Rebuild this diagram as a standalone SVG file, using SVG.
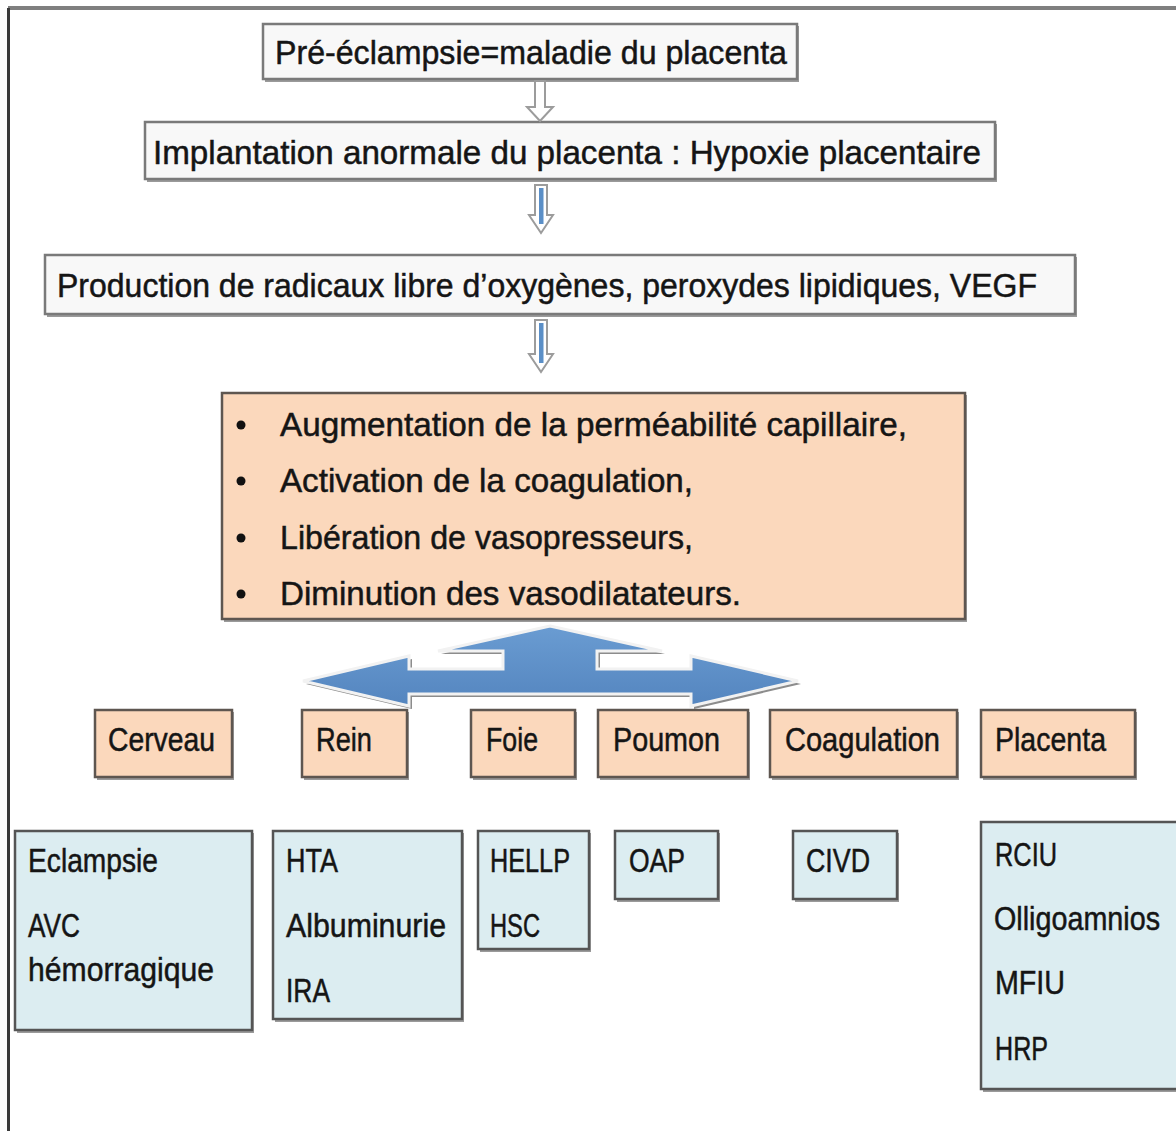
<svg xmlns="http://www.w3.org/2000/svg" width="1176" height="1131" viewBox="0 0 1176 1131">
<defs>
<style>
text{font-family:"Liberation Sans",Arial,sans-serif;font-size:34px;fill:#151515;stroke:#151515;stroke-width:0.5}
.w{fill:#F8F8F8;stroke:#7A7A7A;stroke-width:2.5}
.p{fill:#FBD8BC;stroke:#5E5650;stroke-width:2.5}
.b{fill:#DCEDF1;stroke:#555;stroke-width:2.5}
.sh{fill:#9A9A9A}
.va{fill:#FFFFFF;stroke:#9C9C9C;stroke-width:2}
</style>
<linearGradient id="bg" x1="0" y1="0" x2="0" y2="1">
<stop offset="0" stop-color="#6A9CD2"/>
<stop offset="1" stop-color="#5485BF"/>
</linearGradient>
</defs>
<rect width="1176" height="1131" fill="#FFFFFF"/>
<g id="frame">
<rect x="8" y="6" width="1168" height="4" fill="#7F7F7F"/>
<rect x="7" y="8" width="3" height="1123" fill="#3A3A3A"/>
</g>

<g id="n1">
<rect x="265" y="26" width="534" height="56" class="sh"/>
<rect x="263" y="24" width="534" height="55" class="w"/>
<text x="275" y="64" textLength="512" lengthAdjust="spacingAndGlyphs">Pré-éclampsie=maladie du placenta</text>
</g>
<g id="n2">
<rect x="147" y="124" width="850" height="58" class="sh"/>
<rect x="145" y="122" width="850" height="57" class="w"/>
<text x="153" y="164" textLength="828" lengthAdjust="spacingAndGlyphs">Implantation anormale du placenta : Hypoxie placentaire</text>
</g>
<g id="n3">
<rect x="47" y="257" width="1030" height="60" class="sh"/>
<rect x="45" y="255" width="1030" height="59" class="w"/>
<text x="57" y="297" textLength="980" lengthAdjust="spacingAndGlyphs">Production de radicaux libre d’oxygènes, peroxydes lipidiques, VEGF</text>
</g>
<g id="n4">
<rect x="224" y="395" width="743" height="227" class="sh"/>
<rect x="222" y="393" width="743" height="226" class="p"/>
<circle cx="241" cy="425" r="4.5" fill="#111"/>
<circle cx="241" cy="481" r="4.5" fill="#111"/>
<circle cx="241" cy="538" r="4.5" fill="#111"/>
<circle cx="241" cy="594" r="4.5" fill="#111"/>
<text x="280" y="436" textLength="627" lengthAdjust="spacingAndGlyphs">Augmentation de la perméabilité capillaire,</text>
<text x="280" y="492" textLength="413" lengthAdjust="spacingAndGlyphs">Activation de la coagulation,</text>
<text x="280" y="549" textLength="413" lengthAdjust="spacingAndGlyphs">Libération de vasopresseurs,</text>
<text x="280" y="605" textLength="461" lengthAdjust="spacingAndGlyphs">Diminution des vasodilatateurs.</text>
</g>

<g id="connectors">
<path class="va" d="M535,81 L545,81 L545,107 L553,107 L540,121 L527,107 L535,107 Z"/>
<path class="va" d="M535,185 L547,185 L547,215 L553,215 L541,233 L529,215 L535,215 Z"/>
<rect x="539" y="188" width="4.5" height="36" fill="#5B8FC7"/>
<path class="va" d="M535,320 L547,320 L547,354 L553,354 L541,372 L529,354 L535,354 Z"/>
<rect x="539" y="323" width="4.5" height="40" fill="#5B8FC7"/>
<polygon fill="#8C8C8C" points="551,629 665,654 600,654 600,672 694,672 694,659 801,684 694,709 694,697 412,697 412,709 306,684 412,659 412,672 506,672 506,654 441,654"/>
<polygon fill="url(#bg)" stroke="#F2F2F2" stroke-width="3" stroke-linejoin="miter" points="550,626 662,651 597,651 597,669 691,669 691,656 798,681 691,706 691,694 409,694 409,706 303,681 409,656 409,669 503,669 503,651 438,651"/>
</g>

<g id="cerveau">
<rect x="97" y="712" width="137" height="68" class="sh"/>
<rect x="95" y="710" width="137" height="67" class="p"/>
<text x="108" y="751" textLength="107" lengthAdjust="spacingAndGlyphs">Cerveau</text>
</g>
<g id="rein">
<rect x="304" y="712" width="105" height="68" class="sh"/>
<rect x="302" y="710" width="105" height="67" class="p"/>
<text x="316" y="751" textLength="56" lengthAdjust="spacingAndGlyphs">Rein</text>
</g>
<g id="foie">
<rect x="473" y="712" width="104" height="68" class="sh"/>
<rect x="471" y="710" width="104" height="67" class="p"/>
<text x="486" y="751" textLength="52" lengthAdjust="spacingAndGlyphs">Foie</text>
</g>
<g id="poumon">
<rect x="600" y="712" width="150" height="68" class="sh"/>
<rect x="598" y="710" width="150" height="67" class="p"/>
<text x="613" y="751" textLength="107" lengthAdjust="spacingAndGlyphs">Poumon</text>
</g>
<g id="coagulation">
<rect x="772" y="712" width="187" height="68" class="sh"/>
<rect x="770" y="710" width="187" height="67" class="p"/>
<text x="785" y="751" textLength="155" lengthAdjust="spacingAndGlyphs">Coagulation</text>
</g>
<g id="placenta">
<rect x="983" y="712" width="154" height="68" class="sh"/>
<rect x="981" y="710" width="154" height="67" class="p"/>
<text x="995" y="751" textLength="111" lengthAdjust="spacingAndGlyphs">Placenta</text>
</g>

<g id="r-cerveau">
<rect x="17" y="833" width="237" height="200" class="sh"/>
<rect x="15" y="831" width="237" height="199" class="b"/>
<text x="28" y="872" textLength="130" lengthAdjust="spacingAndGlyphs">Eclampsie</text>
<text x="28" y="937" textLength="52" lengthAdjust="spacingAndGlyphs">AVC</text>
<text x="28" y="981" textLength="186" lengthAdjust="spacingAndGlyphs">hémorragique</text>
</g>
<g id="r-rein">
<rect x="275" y="833" width="189" height="189" class="sh"/>
<rect x="273" y="831" width="189" height="188" class="b"/>
<text x="286" y="872" textLength="52" lengthAdjust="spacingAndGlyphs">HTA</text>
<text x="286" y="937" textLength="160" lengthAdjust="spacingAndGlyphs">Albuminurie</text>
<text x="286" y="1002" textLength="44" lengthAdjust="spacingAndGlyphs">IRA</text>
</g>
<g id="r-foie">
<rect x="480" y="833" width="111" height="119" class="sh"/>
<rect x="478" y="831" width="111" height="118" class="b"/>
<text x="490" y="872" textLength="80" lengthAdjust="spacingAndGlyphs">HELLP</text>
<text x="490" y="937" textLength="50" lengthAdjust="spacingAndGlyphs">HSC</text>
</g>
<g id="r-poumon">
<rect x="617" y="833" width="103" height="69" class="sh"/>
<rect x="615" y="831" width="103" height="68" class="b"/>
<text x="629" y="872" textLength="56" lengthAdjust="spacingAndGlyphs">OAP</text>
</g>
<g id="r-coagulation">
<rect x="795" y="833" width="104" height="69" class="sh"/>
<rect x="793" y="831" width="104" height="68" class="b"/>
<text x="806" y="872" textLength="64" lengthAdjust="spacingAndGlyphs">CIVD</text>
</g>
<g id="r-placenta">
<rect x="983" y="824" width="200" height="268" class="sh"/>
<rect x="981" y="822" width="200" height="267" class="b"/>
<text x="995" y="866" textLength="62" lengthAdjust="spacingAndGlyphs">RCIU</text>
<text x="994" y="930" textLength="166" lengthAdjust="spacingAndGlyphs">Olligoamnios</text>
<text x="995" y="994" textLength="70" lengthAdjust="spacingAndGlyphs">MFIU</text>
<text x="995" y="1060" textLength="53" lengthAdjust="spacingAndGlyphs">HRP</text>
</g>
</svg>
